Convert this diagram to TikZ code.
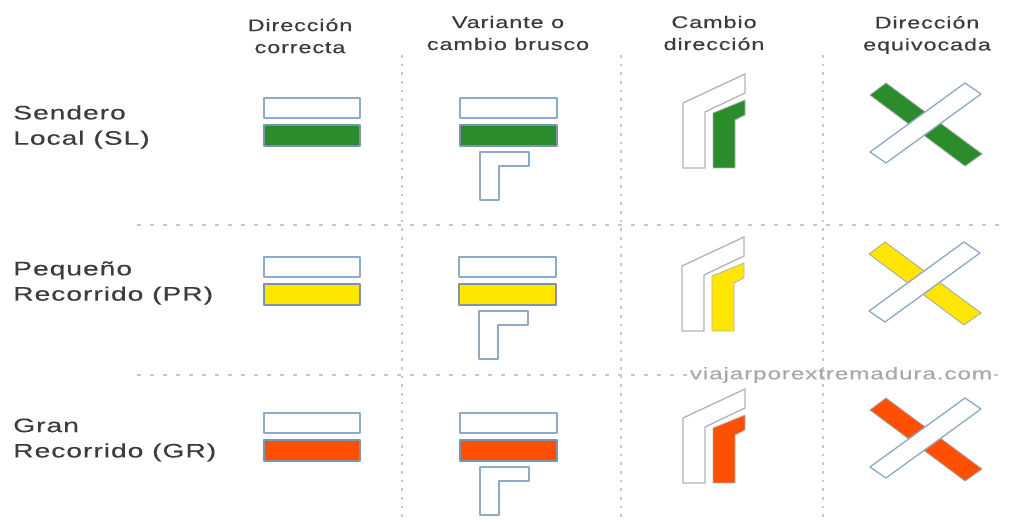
\documentclass[tikz,border=0pt]{standalone}
\usepackage{fontspec}
\setmainfont{Liberation Sans}
\newfontfamily\headfont{Liberation Sans}[LetterSpace=5,FakeStretch=1.4,FakeBold=0.25]
\newfontfamily\rowfont{Liberation Sans}[LetterSpace=5,FakeStretch=1.45,FakeBold=0.25]
\definecolor{bluel}{HTML}{8FAAC8}
\definecolor{bluef}{HTML}{7F94AC}
\definecolor{grayl}{HTML}{B4B4B4}
\definecolor{sl}{HTML}{2A8C2A}
\definecolor{pr}{HTML}{FFE600}
\definecolor{gr}{HTML}{FF4F00}
\definecolor{txt}{HTML}{3C3C3C}
\definecolor{wm}{HTML}{A8A8A8}
\definecolor{guidec}{HTML}{C8C8C8}
\tikzset{
  bluebox/.style={draw=bluel,line width=1pt,fill=white,line join=round},
  fillbox/.style={draw=bluef,line width=0.8pt,line join=round},
  graybox/.style={draw=grayl,line width=1pt,fill=white},
  guide/.style={draw=guidec,line width=1pt,dash pattern=on 2pt off 4.5pt},
  guideh/.style={draw=guidec,line width=0.8pt,dash pattern=on 3pt off 6.75pt},
  head/.style={font=\headfont\fontsize{12.6}{16.5}\selectfont,text=txt,align=center,anchor=center,inner sep=0pt},
  rowlab/.style={font=\rowfont\fontsize{14.6}{19}\selectfont,text=txt,align=left,anchor=west,inner sep=0pt},
  wmark/.style={font=\rowfont\fontsize{12.6}{14}\selectfont,text=wm,inner sep=0pt,anchor=center}
}
\newcommand{\trailrow}[6]{%
 \begin{scope}[yshift=#2*-0.75pt]
  \draw[bluebox] (264,98) rectangle (360,118);
  \draw[fillbox,fill=#1] (264,125) rectangle (360,146);
 \end{scope}
 \begin{scope}[xshift=#3*0.75pt,yshift=#4*-0.75pt]
  \draw[bluebox] (460,98) rectangle (557,118);
  \draw[fillbox,fill=#1] (460,125) rectangle (557,146);
  \draw[bluebox] (480,152) -- (529,152) -- (529,166) -- (499,166) -- (499,200) -- (480,200) -- cycle;
 \end{scope}
 \begin{scope}[xshift=#3*0.75pt,yshift=#5*-0.75pt]
  \draw[graybox] (683,103) -- (745,74) -- (745,93) -- (705,112) -- (705,168) -- (683,168) -- cycle;
  \draw[draw=grayl,line width=0.6pt,fill=#1] (713,113) -- (745,100) -- (745,115) -- (735,120) -- (735,168) -- (713,168) -- cycle;
 \end{scope}
 \begin{scope}[xshift=#3*0.75pt,yshift=#6*-0.75pt]
  \draw[draw=black!35,line width=0.6pt,fill=#1] (870,95) -- (886,83) -- (982,154) -- (965,166) -- cycle;
  \draw[bluebox] (870,152) -- (886,163) -- (981,94) -- (965,83) -- cycle;
 \end{scope}
}
\begin{document}
\begin{tikzpicture}[x=0.75pt,y=-0.75pt]
\useasboundingbox (0,0) rectangle (1017,523);
\fill[white] (0,0) rectangle (1017,523);
\coordinate (v1t) at (402,55); \coordinate (v1b) at (402,520);
\coordinate (v2t) at (621,55); \coordinate (v2b) at (621,520);
\coordinate (v3t) at (823,55); \coordinate (v3b) at (823,520);
\coordinate (h1l) at (137,225); \coordinate (h1r) at (1000,225);
\coordinate (h2l) at (137,375); \coordinate (h2m) at (690,375);
\coordinate (h2n) at (994,375); \coordinate (h2r) at (1003,375);
\draw[guide] (v1t) -- (v1b);
\draw[guide] (v2t) -- (v2b);
\draw[guide] (v3t) -- (v3b);
\draw[guideh] (h1l) -- (h1r);
\draw[guideh] (h2l) -- (h2m);
\draw[guideh] (h2n) -- (h2r);
\node[head] (c1) at (300,36) {Dirección\\correcta};
\node[head] (c2) at (508,33) {Variante o\\cambio brusco};
\node[head] (c3) at (714,33) {Cambio\\dirección};
\node[head] (c4) at (927,35) {Dirección\\equivocada};
\node[rowlab] (r1) at (13,127) {Sendero\\Local (SL)};
\node[rowlab] (r2) at (13,283) {Pequeño\\Recorrido (PR)};
\node[rowlab] (r3) at (13,440) {Gran\\Recorrido (GR)};
\trailrow{sl}{0}{0}{0}{0}{0}
\trailrow{pr}{159}{-1}{159}{163}{159}
\trailrow{gr}{315}{0}{315}{315}{315}
\node[wmark] (wm) at (841,375) {viajarporextremadura.com};
\end{tikzpicture}
\end{document}
